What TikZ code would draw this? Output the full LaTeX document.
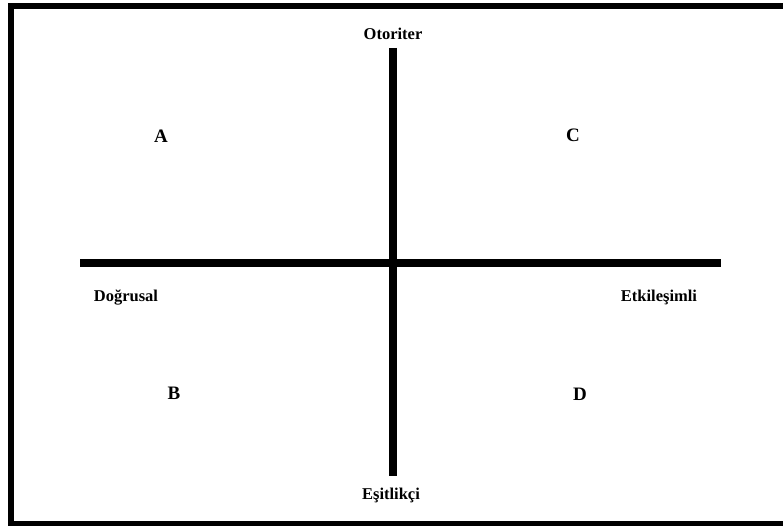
\documentclass[tikz,border=0pt]{standalone}
\usepackage{fontspec}
\setmainfont{Liberation Serif}
\usepackage{tikz}
\usetikzlibrary{positioning, calc}
\usepackage{xcolor}
\definecolor{ink}{RGB}{0,0,0}

\tikzset{
  axisline/.style={ink, line width=8pt},
  quadlabel/.style={font=\fontsize{19}{21}\selectfont\bfseries, inner sep=0pt},
  polelabel/.style={font=\fontsize{16.5}{18}\selectfont\bfseries, inner sep=0pt}
}

\begin{document}
\begin{tikzpicture}[x=1pt, y=-1pt]
  \useasboundingbox (0,0) rectangle (783,526);
  \clip (0,0) rectangle (783,526);
  % Frame
  \draw[ink, line width=6pt] (11,6) rectangle (792,524);
  % Axes
  \coordinate (west) at (80,263);
  \coordinate (east) at (721,263);
  \coordinate (north) at (393,48);
  \coordinate (south) at (393,476);
  \draw[axisline] (west) -- (east);
  \draw[axisline] (north) -- (south);
  % Poles
  \node[polelabel] (otoriter) at (393,34) {Otoriter};
  \node[polelabel] (esitlikci) at (391,495) {Eşitlikçi};
  \node[polelabel] (dogrusal) at (126,298) {Doğrusal};
  \node[polelabel] (etkilesimli) at (659,297) {Etkileşimli};
  % Quadrants
  \node[quadlabel] (qa) at (161,136) {A};
  \node[quadlabel] (qc) at (573,135) {C};
  \node[quadlabel] (qb) at (174,393) {B};
  \node[quadlabel] (qd) at (580,394) {D};
\end{tikzpicture}
\end{document}
